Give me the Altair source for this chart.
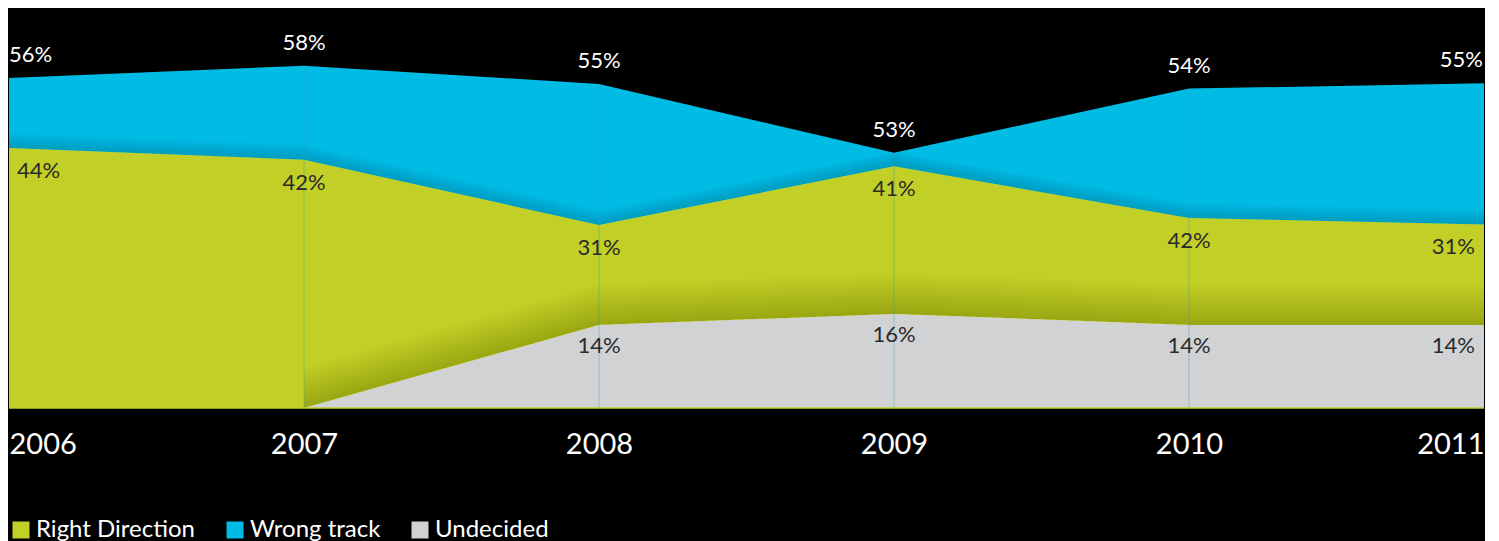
import altair as alt
import pandas as pd

years = [2006, 2007, 2008, 2009, 2010, 2011]
series_names = ["Right Direction", "Wrong track", "Undecided"]
series_colors = ["#C2CF26", "#00BCE4", "#D1D2D4"]

right_direction = [44.2, 42.2, 31.1, 41.1, 32.3, 31.2]
wrong_track = [56.1, 58.2, 55.1, 43.4, 54.3, 55.2]
undecided = [0, 0, 14.1, 16.0, 14.1, 14.1]

right_labels = ["44%", "42%", "31%", "41%", "42%", "31%"]
wrong_labels = ["56%", "58%", "55%", "53%", "54%", "55%"]
undecided_labels = ["", "", "14%", "16%", "14%", "14%"]

FONT = "Lato"

wide = pd.DataFrame({
    "year": years,
    "right": right_direction,
    "wrong": wrong_track,
    "und": undecided,
    "right_lab": right_labels,
    "wrong_lab": wrong_labels,
    "und_lab": undecided_labels,
})

long = pd.concat([
    pd.DataFrame({"year": years, "series": name, "value": vals})
    for name, vals in zip(series_names, [right_direction, wrong_track, undecided])
], ignore_index=True)

x_enc = alt.X(
    "year:Q",
    scale=alt.Scale(domain=[years[0], years[-1]], nice=False, zero=False),
    axis=alt.Axis(values=years, format="d", labelFlush=True, domain=False, ticks=False,
                  grid=False, labelFontSize=29, labelColor="white", labelFont=FONT,
                  labelPadding=22, title=None),
)
y_scale = alt.Scale(domain=[0, 68], nice=False)

color_enc = alt.Color(
    "series:N",
    scale=alt.Scale(domain=series_names, range=series_colors),
    legend=alt.Legend(orient="none", legendX=0, legendY=510, direction="horizontal",
                      title=None, symbolType="square", symbolSize=289, symbolStrokeWidth=0,
                      symbolOpacity=1, labelFontSize=24, labelColor="white", labelFont=FONT,
                      labelOffset=3, columnPadding=27),
)


def area_layer(name):
    return alt.Chart(long).transform_filter(alt.datum.series == name).mark_area(
        opacity=1, interpolate="linear"
    ).encode(x=x_enc, y=alt.Y("value:Q", scale=y_scale, axis=None), color=color_enc)


layers = [area_layer("Wrong track")]

# soft shadow in the blue band just above the green edge
for k in range(1, 13):
    layers.append(
        alt.Chart(wide).transform_calculate(
            hi=f"min(datum.right + {0.22 * k}, datum.wrong)"
        ).mark_area(color="black", opacity=0.01).encode(
            x=x_enc, y=alt.Y("hi:Q", scale=y_scale, axis=None), y2="right:Q"
        )
    )

layers.append(area_layer("Right Direction"))

# soft shadow in the green band just above the grey edge
for k in range(1, 21):
    layers.append(
        alt.Chart(wide).transform_filter(alt.datum.year >= years[1]).transform_calculate(
            hi=f"min(datum.und + {0.35 * k}, datum.right)"
        ).mark_area(color="black", opacity=0.0065).encode(
            x=x_enc, y=alt.Y("hi:Q", scale=y_scale, axis=None), y2="und:Q"
        )
    )

layers.append(area_layer("Undecided"))

# faint vertical year lines
layers.append(
    alt.Chart(wide).transform_filter(
        (alt.datum.year > years[0]) & (alt.datum.year < years[-1])
    ).mark_rule(color="#2f9fb0", opacity=0.4, strokeWidth=1).encode(
        x=x_enc, y=alt.Y("wrong:Q", scale=y_scale, axis=None), y2=alt.datum(0)
    )
)

# baseline
layers.append(
    alt.Chart(wide).mark_rule(color="#C2CF26", strokeWidth=1.5).encode(
        y=alt.Y("base:Q", scale=y_scale, axis=None)
    ).transform_calculate(base="0").transform_filter(alt.datum.year == years[0])
)


def text_layers(field, label, color, dy, dx_first, dx_last):
    out = []
    specs = [
        ("left", dx_first, alt.datum.year == years[0]),
        ("center", 0, (alt.datum.year > years[0]) & (alt.datum.year < years[-1])),
        ("right", dx_last, alt.datum.year == years[-1]),
    ]
    for align, dx, cond in specs:
        out.append(
            alt.Chart(wide).transform_filter(cond).transform_filter(
                f"datum.{label} != ''"
            ).mark_text(align=align, baseline="middle", dx=dx, dy=dy, fontSize=22,
                        font=FONT, color=color).encode(
                x=x_enc, y=alt.Y(f"{field}:Q", scale=y_scale, axis=None),
                text=f"{label}:N",
            )
        )
    return out


layers += text_layers("wrong", "wrong_lab", "white", -23, 0, -1)
layers += text_layers("right", "right_lab", "#2a2a2a", 23, 8, -9)
layers += text_layers("und", "und_lab", "#2a2a2a", 21, 8, -9)

chart = alt.layer(*layers).properties(
    width=1475, height=400, padding=0, background="black"
).configure_view(stroke=None)

chart.save("out.html", embed_options={"renderer": "svg", "actions": False})
